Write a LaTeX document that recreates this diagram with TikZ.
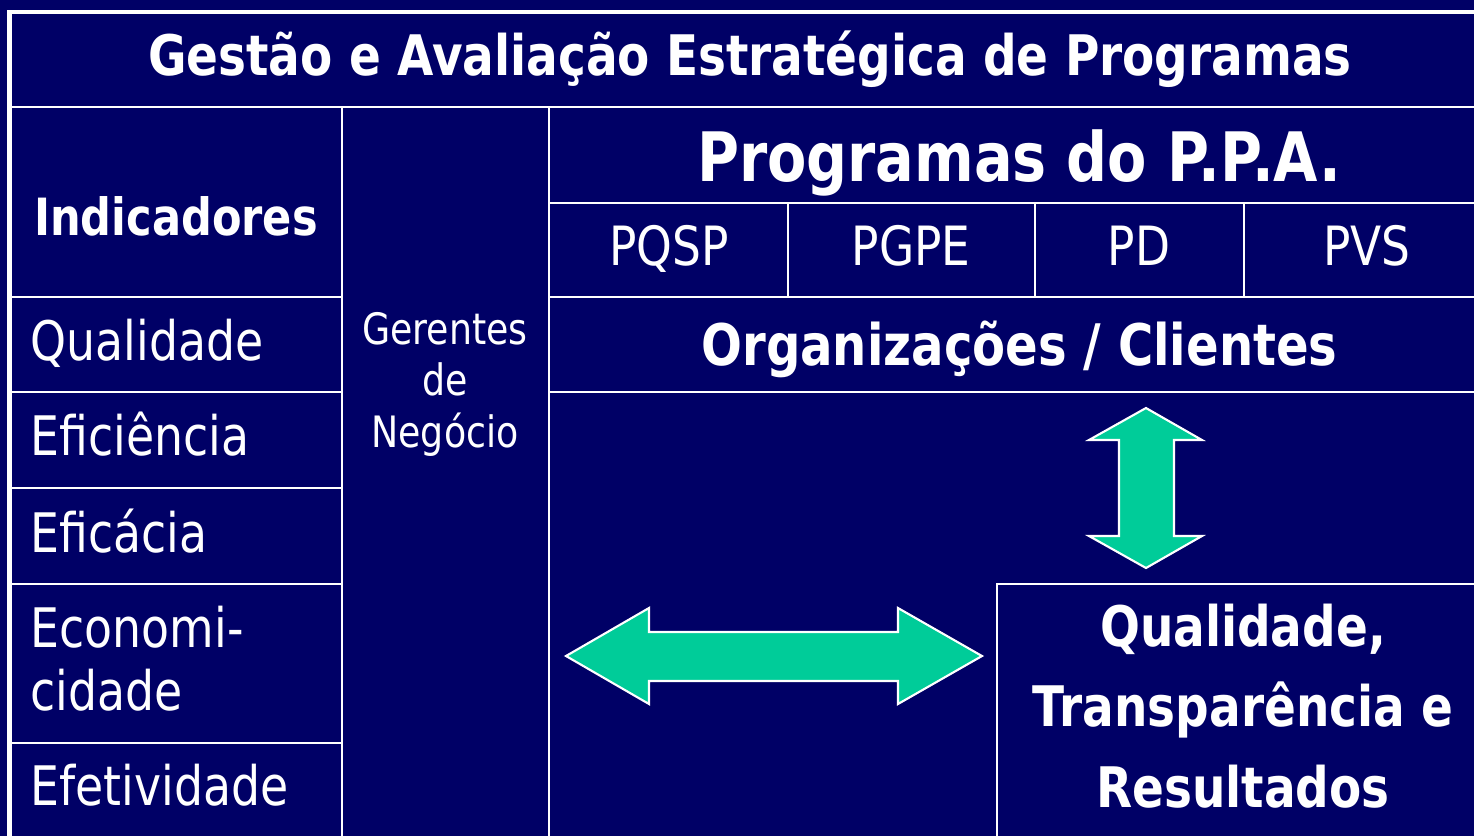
\documentclass[tikz,border=0pt]{standalone}
\usepackage{fontspec}
\setmainfont{DejaVu Sans}[FakeStretch=0.84]
\definecolor{navybg}{HTML}{000066}
\definecolor{arrowgreen}{HTML}{00CC99}

\begin{document}
\begin{tikzpicture} [scale = 1,
  grid/.style = {white, line width = 0.8pt},
  frame/.style = {white, line width = 1.4pt},
  blockarrow/.style = {fill = arrowgreen, draw = white, line width = 0.6pt, line join = miter},
  head/.style = {white, anchor = base, inner sep = 0pt},
  cellbold/.style = {head, font = \bfseries\fontsize{15.9}{22.8}\selectfont},
  cellplain/.style = {white, anchor = base west, inner sep = 0pt, align = left, font = \fontsize{15.5}{17.9}\selectfont},
  prog/.style = {head, font = \fontsize{15.4}{18}\selectfont}]
\useasboundingbox (0, 0) rectangle (14.74, 8.36);
\fill[navybg] (0, 0) rectangle (14.74, 8.36);
\clip (0, 0) rectangle (14.74, 8.36);

% table lines
\draw[frame] (0.095, -0.1) -- (0.095, 8.24) -- (14.8, 8.24);
\draw[grid] (0.10, 7.29) -- (14.8, 7.29);
\draw[grid] (3.42, 7.29) -- (3.42, -0.1);
\draw[grid] (5.49, 7.29) -- (5.49, -0.1);
\foreach \y in {5.39, 4.44, 3.48, 2.52, 0.93}
  \draw[grid] (0.10, \y) -- (3.42, \y);
\foreach \y in {6.33, 5.39, 4.44}
  \draw[grid] (5.49, \y) -- (14.8, \y);
\foreach \x in {7.88, 10.35, 12.44}
  \draw[grid] (\x, 6.33) -- (\x, 5.39);
\draw[grid] (9.97, -0.1) -- (9.97, 2.52) -- (14.8, 2.52);

% headings
\node[cellbold] (title) at (7.50, 7.61) {Gestão e Avaliação Estratégica de Programas};
\node[head, font = \bfseries\fontsize{19.4}{22}\selectfont] (ppa) at (10.19, 6.55) {Programas do P.P.A.};
\node[head, font = \bfseries\fontsize{14.6}{17}\selectfont] (indic) at (1.76, 6.01) {Indicadores};
\node[head, font = \bfseries\fontsize{16.3}{19}\selectfont] (orgs) at (10.195, 4.71) {Organizações / Clientes};

% programas
\node[prog] (pqsp) at (6.69, 5.71) {PQSP};
\node[prog] (pgpe) at (9.11, 5.71) {PGPE};
\node[prog] (pd) at (11.39, 5.71) {PD};
\node[prog] (pvs) at (13.67, 5.71) {PVS};

% indicadores
\node[cellplain] (qual) at (0.30, 4.76) {Qualidade};
\node[cellplain] (efic) at (0.30, 3.81) {Eficiência};
\node[cellplain] (eficac) at (0.30, 2.84) {Eficácia};
\node[cellplain] (econ) at (0.30, 1.26) {Economi-\\cidade};
\node[cellplain] (efet) at (0.30, 0.31) {Efetividade};

\node[head, align = center, font = \fontsize{12.3}{14.65}\selectfont] (gerentes) at (4.45, 3.89) {Gerentes\\de\\Negócio};
\node[cellbold, align = center] (result) at (12.43, 0.29) {Qualidade,\\Transparência e\\Resultados};

% setas
\draw[blockarrow] (5.66, 1.80) -- (6.49, 2.28) -- (6.49, 2.04) -- (8.98, 2.04) -- (8.98, 2.28)
  -- (9.82, 1.80) -- (8.98, 1.32) -- (8.98, 1.55) -- (6.49, 1.55) -- (6.49, 1.32) -- cycle;
\draw[blockarrow] (11.46, 4.28) -- (12.02, 3.96) -- (11.74, 3.96) -- (11.74, 3.00) -- (12.02, 3.00)
  -- (11.46, 2.68) -- (10.89, 3.00) -- (11.19, 3.00) -- (11.19, 3.96) -- (10.89, 3.96) -- cycle;
\end{tikzpicture}
\end{document}
